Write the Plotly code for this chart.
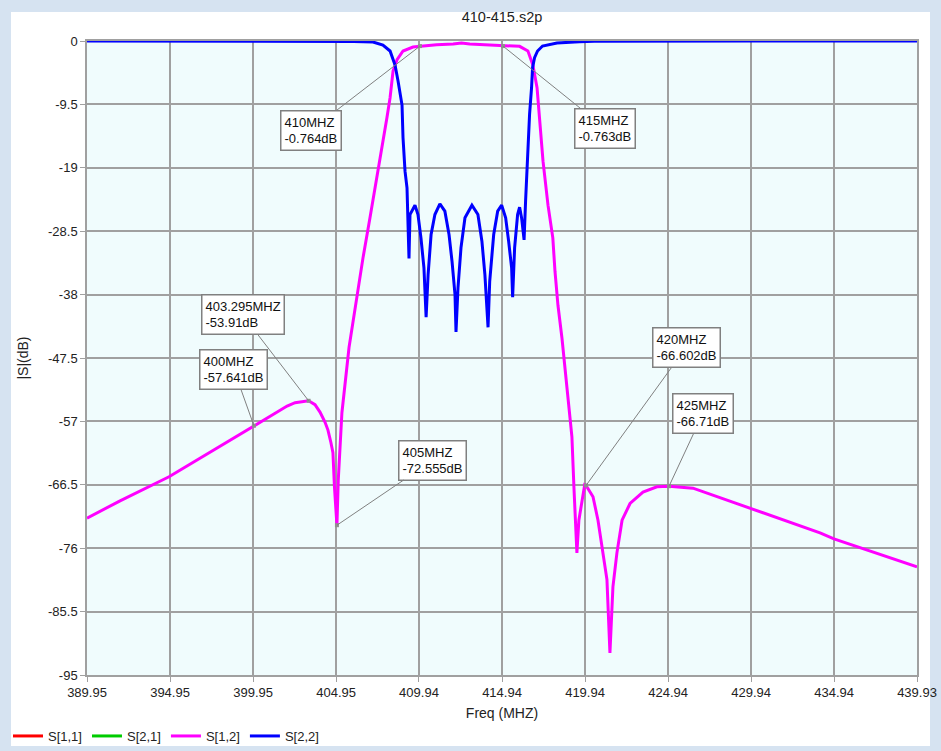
import plotly.graph_objects as go

# ---------------- data ----------------
s12_freq = [389.95, 391.94, 394.89, 397.36, 399.89, 400.0, 401.0, 401.57, 402.0, 402.48,
            403.0, 403.295, 403.68, 403.98, 404.28, 404.46, 404.64, 404.76, 404.85, 404.93,
            405.0, 405.08, 405.3, 405.73, 406.27, 406.57, 406.99, 407.41, 407.71, 408.01,
            408.2, 408.38, 408.62, 408.98, 409.58, 410.0, 411.0, 412.0, 412.5, 413.0,
            414.0, 415.0, 416.0, 416.5, 416.8, 417.05, 417.23, 417.41, 417.71, 418.0,
            418.13, 418.31, 418.55, 418.67, 418.85, 419.15, 419.27, 419.36, 419.45, 419.57,
            419.75, 419.92, 420.0, 420.42, 420.72, 421.02, 421.26, 421.44, 421.62, 421.86,
            422.17, 422.65, 423.43, 424.27, 425.0, 426.44, 428.49, 429.99, 432.46, 434.09,
            434.93, 439.87, 439.93]
s12_db = [-71.5, -68.9, -65.3, -61.6, -57.8, -57.641, -56.2, -55.3, -54.7, -54.2,
          -53.95, -53.91, -54.5, -55.6, -57.1, -58.3, -60.2, -61.7, -66.8, -70.5,
          -72.555, -65.8, -55.7, -45.9, -37.0, -32.5, -26.5, -20.5, -16.0, -11.5,
          -8.5, -4.5, -2.8, -1.5, -0.9, -0.764, -0.55, -0.45, -0.3, -0.45,
          -0.55, -0.763, -0.8, -1.5, -3.6, -7.0, -12.0, -18.0, -24.6, -29.5,
          -34.5, -39.6, -44.5, -47.5, -51.8, -59.3, -66.8, -71.8, -76.7, -71.8,
          -68.8, -66.5, -66.602, -68.3, -71.8, -76.7, -80.7, -91.7, -81.8, -76.7,
          -71.8, -69.3, -67.6, -66.8, -66.71, -67.0, -68.8, -70.0, -72.2, -73.7,
          -74.6, -78.7, -78.8]

s22_freq = [389.95, 400.0, 405.0, 406.0, 407.17, 407.77, 408.2, 408.5, 408.68, 408.92,
            408.98, 409.1, 409.22, 409.28, 409.34, 409.4, 409.52, 409.7, 409.88, 410.06,
            410.24, 410.37, 410.49, 410.67, 410.9, 411.2, 411.5, 411.75, 411.93, 412.11,
            412.17, 412.29, 412.47, 412.71, 413.13, 413.49, 413.73, 413.91, 414.1, 414.2,
            414.44, 414.68, 414.92, 415.16, 415.34, 415.52, 415.58, 415.7, 415.88, 416.0,
            416.12, 416.27, 416.36, 416.48, 416.6, 416.72, 416.78, 416.9, 417.08, 417.38,
            418.25, 419.6, 420.5, 430.0, 439.93]
s22_db = [0.0, 0.0, -0.02, -0.06, -0.15, -0.6, -1.5, -3.6, -6.0, -9.6,
          -14.5, -19.5, -22.0, -27.0, -32.6, -26.0, -25.5, -24.6, -26.0, -29.5,
          -34.0, -41.4, -35.0, -29.0, -26.0, -24.4, -25.5, -29.0, -33.0, -38.0,
          -43.6, -37.0, -31.0, -26.5, -24.6, -26.0, -30.0, -35.0, -42.9, -36.0,
          -29.0, -25.5, -24.6, -26.5, -30.0, -34.0, -38.4, -31.0, -26.0, -24.9,
          -26.5, -29.8, -24.0, -17.0, -11.0, -7.0, -4.0, -2.5, -1.5, -0.75,
          -0.3, -0.1, -0.02, 0.0, 0.0]

marker_freq = [410, 415, 403.295, 400, 405, 420, 425]
marker_db = [-0.764, -0.763, -53.91, -57.641, -72.555, -66.602, -66.71]
marker_label = ["410MHZ", "415MHZ", "403.295MHZ", "400MHZ", "405MHZ", "420MHZ", "425MHZ"]
marker_value = ["-0.764dB", "-0.763dB", "-53.91dB", "-57.641dB", "-72.555dB", "-66.602dB", "-66.71dB"]

x_tickvals = [389.95, 394.95, 399.95, 404.95, 409.94, 414.94, 419.94, 424.94, 429.94, 434.94, 439.93]
x_ticktext = ["389.95", "394.95", "399.95", "404.95", "409.94", "414.94", "419.94", "424.94", "429.94", "434.94", "439.93"]
y_tickvals = [0, -9.5, -19, -28.5, -38, -47.5, -57, -66.5, -76, -85.5, -95]
y_ticktext = ["0", "-9.5", "-19", "-28.5", "-38", "-47.5", "-57", "-66.5", "-76", "-85.5", "-95"]

# ---------------- layout geometry ----------------
W, H = 941, 751
L, R, T, B = 87, 917, 41, 675
def px(p):
    return (p - L) / (R - L)
def py(p):
    return (B - p) / (B - T)

FONT = "Liberation Sans, Arial, sans-serif"
GRID = "#A0A0A0"

fig = go.Figure()
fig.add_trace(go.Scatter(x=[None], y=[None], mode="lines", name="S[1,1]",
                         line=dict(color="#FF0000", width=3)))
fig.add_trace(go.Scatter(x=[None], y=[None], mode="lines", name="S[2,1]",
                         line=dict(color="#00CC00", width=3)))
fig.add_trace(go.Scatter(x=s12_freq, y=s12_db, mode="lines", name="S[1,2]",
                         line=dict(color="#FF00FF", width=3)))
fig.add_trace(go.Scatter(x=s22_freq, y=s22_db, mode="lines", name="S[2,2]",
                         line=dict(color="#0000FF", width=3)))
fig.add_trace(go.Scatter(x=marker_freq, y=marker_db, mode="markers", showlegend=False,
                         marker=dict(color="#909090", size=4, symbol="square"), hoverinfo="skip"))

# marker annotation boxes (offsets in pixels)
offsets = [(-109, 84), (102, 82), (-66, -86), (-20, -56), (96, -65), (100, -138), (34, -73)]
for f, v, lab, val, (ax, ay) in zip(marker_freq, marker_db, marker_label, marker_value, offsets):
    fig.add_annotation(x=f, y=v, xref="x", yref="y", text=lab + "<br>" + val,
                       showarrow=True, arrowhead=0, arrowwidth=1, arrowcolor="#808080",
                       ax=ax, ay=ay, align="left", bgcolor="white", bordercolor="#808080",
                       borderwidth=1.5, borderpad=3,
                       font=dict(family=FONT, size=13, color="#111111"))

# outer light-blue frame strips (drawn beneath text)
FRAME = "#D6E3F1"
for (x0, x1, y0, y1) in [(0, 11, 0, H), (930, W, 0, H), (0, W, 0, 12), (0, W, 746, H)]:
    fig.add_shape(type="rect", xref="paper", yref="paper",
                  x0=px(x0), x1=px(x1), y0=py(y1), y1=py(y0),
                  fillcolor=FRAME, line=dict(width=0), layer="below")

fig.update_layout(
    width=W, height=H,
    margin=dict(l=L, r=W - R, t=T, b=H - B),
    paper_bgcolor="white", plot_bgcolor="#F0FCFD",
    font=dict(family=FONT, size=13, color="#222222"),
    title=dict(text="410-415.s2p", x=0.5, xref="paper", y=1 - 17 / H, yref="container",
               xanchor="center", yanchor="middle", font=dict(size=14.5, color="#222222")),
    showlegend=True,
    legend=dict(orientation="h", xref="container", yref="container",
                x=8 / W, y=0, xanchor="left", yanchor="bottom",
                font=dict(size=13), itemwidth=30, tracegroupgap=0, bgcolor="rgba(0,0,0,0)",
                traceorder="normal"),
    xaxis=dict(range=[389.95, 439.93], tickvals=x_tickvals, ticktext=x_ticktext,
               automargin=False,
               showgrid=True, gridcolor=GRID, gridwidth=1.5, zeroline=False,
               showline=True, linecolor=GRID, linewidth=1.5, mirror=True,
               ticks="outside", ticklen=5, tickcolor=GRID,
               title=dict(text="Freq (MHZ)", standoff=14, font=dict(size=14))),
    yaxis=dict(range=[-95, 0], tickvals=y_tickvals, ticktext=y_ticktext,
               automargin=False,
               showgrid=True, gridcolor=GRID, gridwidth=1.5, zeroline=False,
               showline=True, linecolor=GRID, linewidth=1.5, mirror=True,
               ticks="outside", ticklen=5, tickcolor=GRID,
               title=dict(text="|S|(dB)", standoff=16, font=dict(size=14))),
)

fig.write_html("out.html", config={"displayModeBar": False},
               post_script="document.body.style.margin='0px';")
